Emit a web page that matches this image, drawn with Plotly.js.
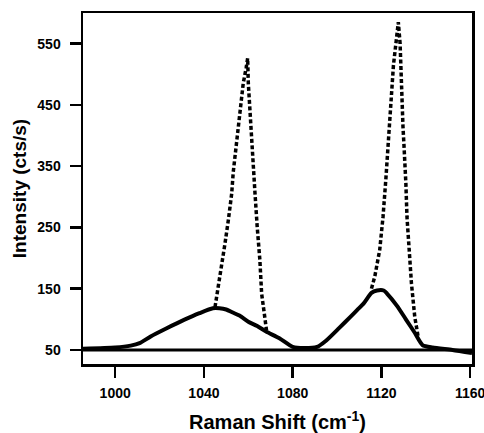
<!DOCTYPE html>
<html>
<head>
<meta charset="utf-8">
<script src="https://cdn.plot.ly/plotly-3.0.1.min.js"></script>
<style>
  html, body { margin: 0; padding: 0; background: #fff; }
  #chart { width: 484px; height: 433px; }
</style>
</head>
<body>
<div id="chart"></div>
<script>
// Broad band (solid line), Raman shift in cm^-1 and intensity in cts/s
const broadShift = [985.5, 1000, 1007, 1011, 1016, 1023, 1031, 1038, 1044, 1047, 1050, 1053, 1056, 1060, 1064, 1068, 1074, 1080, 1085, 1091, 1095, 1101, 1106, 1109, 1112, 1115.5, 1118, 1121, 1122.5, 1127, 1131, 1135, 1138.5, 1143, 1152, 1160.8];
const broadIntensity = [52, 54, 57, 61, 72, 85, 99, 110, 118, 118, 116, 111, 106, 96, 89, 80, 69, 55, 53, 55, 65, 86, 104, 115, 126, 143, 147, 147, 142, 122, 100, 78, 58, 54, 50, 45];

// First sharp band (dotted line)
const peak1Shift = [1045.0, 1046.5, 1048.0, 1049.5, 1051.0, 1052.5, 1053.2, 1054.0, 1055.2, 1056.2, 1057.0, 1057.7, 1059.0, 1059.7, 1060.0, 1060.7, 1061.5, 1062.2, 1063.0, 1064.0, 1065.2, 1066.0, 1067.5, 1068.2];
const peak1Intensity = [120, 153, 186, 224, 262, 305, 340, 365, 398, 430, 458, 485, 510, 526, 485, 447, 409, 365, 306, 251, 197, 142, 94, 82];

// Second sharp band (dotted line)
const peak2Shift = [1115.5, 1117.0, 1119.2, 1120.7, 1122.0, 1123.0, 1123.7, 1124.2, 1124.6, 1125.0, 1125.4, 1126.5, 1127.6, 1128.4, 1128.7, 1129.0, 1129.4, 1129.7, 1130.1, 1130.5, 1131.0, 1131.5, 1132.4, 1133.5, 1135.0, 1136.5];
const peak2Intensity = [150, 170, 213, 267, 330, 380, 414, 445, 470, 497, 515, 550, 585, 550, 515, 469, 441, 414, 387, 365, 322, 267, 213, 159, 104, 72];

// Axis ticks and the reference level line
const xTicks = [1000, 1040, 1080, 1120, 1160];
const yTicks = [50, 150, 250, 350, 450, 550];
const baselineLevel = 50;

const fontFamily = '"Liberation Sans", Arial, Helvetica, sans-serif';

const traces = [
  {
    x: broadShift, y: broadIntensity, type: 'scatter', mode: 'lines',
    line: { color: '#000', width: 4, shape: 'spline', smoothing: 0.6 },
    hoverinfo: 'skip'
  },
  {
    x: peak1Shift, y: peak1Intensity, type: 'scatter', mode: 'lines',
    line: { color: '#000', width: 3.5, dash: '4px,2.5px' },
    hoverinfo: 'skip'
  },
  {
    x: peak2Shift, y: peak2Intensity, type: 'scatter', mode: 'lines',
    line: { color: '#000', width: 3.5, dash: '4px,2.5px' },
    hoverinfo: 'skip'
  }
];

const axisCommon = {
  showline: true, linecolor: '#000', linewidth: 2.5, mirror: true,
  ticks: 'outside', ticklen: 11, tickwidth: 2.5, tickcolor: '#000',
  showgrid: false, zeroline: false,
  tickfont: { family: fontFamily, size: 14, color: '#000', weight: 'bold' },
  ticklabeloverflow: 'allow'
};

const layout = {
  width: 484, height: 433,
  margin: { l: 83, r: 12, t: 13, b: 69 },
  paper_bgcolor: '#fff', plot_bgcolor: '#fff',
  showlegend: false,
  xaxis: Object.assign({}, axisCommon, {
    range: [985.5, 1160.8],
    ticklabelstandoff: 4,
    tickmode: 'array', tickvals: xTicks, ticktext: xTicks.map(String),
    title: { text: 'Raman Shift (cm<sup>-1</sup>)', standoff: 28,
             font: { family: fontFamily, size: 20, color: '#000', weight: 'bold' } }
  }),
  yaxis: Object.assign({}, axisCommon, {
    range: [27, 600],
    ticklabelstandoff: 6,
    tickmode: 'array', tickvals: yTicks, ticktext: yTicks.map(String),
    title: { text: 'Intensity (cts/s)', standoff: 6,
             font: { family: fontFamily, size: 19, color: '#000', weight: 'bold' } }
  }),
  shapes: [
    {
      type: 'line', xref: 'paper', x0: 0, x1: 1,
      yref: 'y', y0: baselineLevel, y1: baselineLevel,
      line: { color: '#000', width: 3 }, layer: 'above'
    }
  ]
};

Plotly.newPlot('chart', traces, layout, { staticPlot: true, displayModeBar: false });
</script>
</body>
</html>
